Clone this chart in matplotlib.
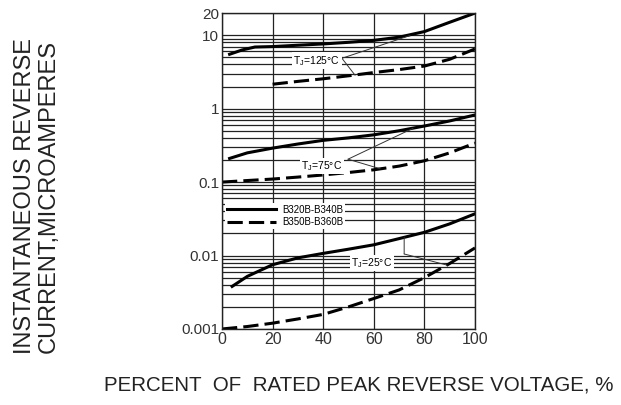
import matplotlib
matplotlib.use('Agg')
import matplotlib.pyplot as plt
from matplotlib.ticker import FixedLocator, LogLocator, NullFormatter
import numpy as np

plt.rcParams['font.family'] = ['Liberation Sans', 'DejaVu Sans']
plt.rcParams['mathtext.fontset'] = 'custom'
plt.rcParams['mathtext.rm'] = 'Liberation Sans'

# percent of rated peak reverse voltage
x_125_solid = [3, 8, 13, 20, 30, 40, 50, 60, 70, 80, 90, 100]
y_125_solid = [5.5, 6.3, 6.9, 7.0, 7.3, 7.6, 8.0, 8.5, 9.4, 11.2, 15.0, 20.0]
x_125_dash = [20, 30, 40, 50, 60, 70, 80, 90, 100]
y_125_dash = [2.15, 2.35, 2.55, 2.8, 3.1, 3.4, 3.8, 4.7, 6.5]

x_75_solid = [3, 10, 20, 30, 40, 50, 60, 70, 80, 90, 100]
y_75_solid = [0.21, 0.25, 0.29, 0.33, 0.37, 0.40, 0.44, 0.50, 0.58, 0.68, 0.82]
x_75_dash = [0, 10, 20, 30, 40, 50, 60, 70, 80, 90, 100]
y_75_dash = [0.10, 0.105, 0.11, 0.117, 0.125, 0.135, 0.147, 0.165, 0.195, 0.25, 0.34]

x_25_solid = [4, 10, 20, 30, 40, 50, 60, 70, 80, 90, 100]
y_25_solid = [0.0038, 0.0052, 0.0075, 0.0093, 0.0107, 0.0122, 0.014, 0.017, 0.0207, 0.027, 0.037]
x_25_dash = [0, 10, 20, 30, 40, 50, 60, 70, 80, 90, 100]
y_25_dash = [0.001, 0.00108, 0.0012, 0.00137, 0.00158, 0.002, 0.0026, 0.0034, 0.005, 0.0078, 0.0127]

series_labels = ['B320B-B340B', 'B350B-B360B']
x_ticks = [0, 20, 40, 60, 80, 100]
y_ticks = [0.001, 0.01, 0.1, 1, 10, 20]
y_tick_labels = ['0.001', '0.01', '0.1', '1', '10', '20']

fig = plt.figure(figsize=(6.21, 4.05), dpi=100)
ax = fig.add_axes([0.3575, 0.1877, 0.4074, 0.780])

lw = 2.2
dash = (5, 2)
ax.plot(x_125_solid, y_125_solid, color='black', lw=lw, label=series_labels[0])
ax.plot(x_125_dash, y_125_dash, color='black', lw=lw, dashes=dash, label=series_labels[1])
ax.plot(x_75_solid, y_75_solid, color='black', lw=lw)
ax.plot(x_75_dash, y_75_dash, color='black', lw=lw, dashes=dash)
ax.plot(x_25_solid, y_25_solid, color='black', lw=lw)
ax.plot(x_25_dash, y_25_dash, color='black', lw=lw, dashes=dash)

ax.set_yscale('log')
ax.set_xlim(0, 100)
ax.set_ylim(0.001, 20)
ax.xaxis.set_major_locator(FixedLocator(x_ticks))
ax.yaxis.set_major_locator(FixedLocator(y_ticks))
ax.set_yticklabels(y_tick_labels)
ax.yaxis.set_minor_locator(LogLocator(base=10, subs=np.arange(2, 10)))
ax.yaxis.set_minor_formatter(NullFormatter())
ax.tick_params(which='both', length=0, labelsize=11, colors='#333333', pad=2)
ax.tick_params(axis='x', labelsize=11.5)
ax.grid(which='major', axis='both', color='#222222', lw=0.9)
ax.grid(which='minor', axis='y', color='#222222', lw=0.9)
for s in ax.spines.values():
    s.set_color('#222222')
    s.set_linewidth(1.0)

# temperature labels
tb = dict(facecolor='white', edgecolor='none', pad=1)
alw = 0.7
ax.text(37.5, 4.5, r'T$_\mathregular{J}$=125°C', fontsize=7.5, ha='center', va='center', bbox=tb, zorder=4)
ax.annotate('', xy=(74.3, 9.9), xytext=(47.4, 4.85),
            arrowprops=dict(arrowstyle='-', lw=alw, color='#333333', shrinkA=0, shrinkB=0))
ax.annotate('', xy=(52.6, 2.85), xytext=(47.4, 4.85),
            arrowprops=dict(arrowstyle='-', lw=alw, color='#333333', shrinkA=0, shrinkB=0))

ax.text(39.5, 0.166, r'T$_\mathregular{J}$=75°C', fontsize=7.5, ha='center', va='center', bbox=tb, zorder=4)
ax.annotate('', xy=(75.5, 0.54), xytext=(49.8, 0.205),
            arrowprops=dict(arrowstyle='-', lw=alw, color='#333333', shrinkA=0, shrinkB=0))
ax.annotate('', xy=(62.5, 0.152), xytext=(49.8, 0.205),
            arrowprops=dict(arrowstyle='-', lw=alw, color='#333333', shrinkA=0, shrinkB=0))

ax.text(59.3, 0.0079, r'T$_\mathregular{J}$=25°C', fontsize=7.5, ha='center', va='center', bbox=tb, zorder=4)
ax.annotate('', xy=(72, 0.0178), xytext=(72, 0.0105),
            arrowprops=dict(arrowstyle='-', lw=alw, color='#333333', shrinkA=0, shrinkB=0))
ax.annotate('', xy=(89, 0.0074), xytext=(72, 0.0105),
            arrowprops=dict(arrowstyle='-', lw=alw, color='#333333', shrinkA=0, shrinkB=0))

leg = ax.legend(loc='center left', bbox_to_anchor=(0.0, 0.358), borderaxespad=0.3,
                fontsize=7, handlelength=5.1, handletextpad=0.6, labelspacing=0.25,
                frameon=True, fancybox=False, framealpha=1, borderpad=0.2)
leg.get_frame().set_edgecolor('none')
leg.get_frame().set_facecolor('white')

fig.text(0.040, 0.516, 'INSTANTANEOUS REVERSE', rotation=90, fontsize=17,
         ha='center', va='center', color='#222222')
fig.text(0.078, 0.516, 'CURRENT,MICROAMPERES', rotation=90, fontsize=17,
         ha='center', va='center', color='#222222')
fig.text(0.577, 0.05, 'PERCENT  OF  RATED PEAK REVERSE VOLTAGE, %', fontsize=14.8,
         ha='center', va='center', color='#222222')

fig.savefig('out.png', dpi=100)
